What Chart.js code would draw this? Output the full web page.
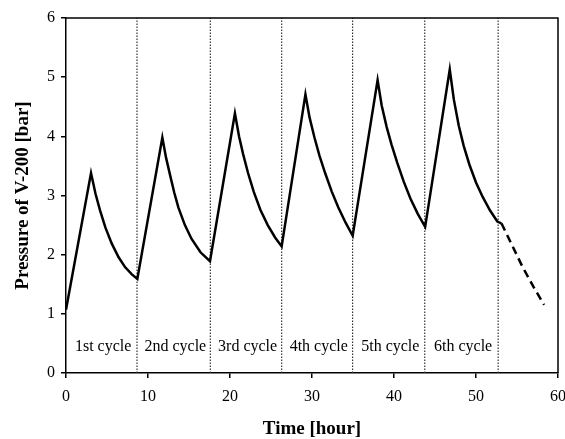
<!DOCTYPE html>
<html>
<head>
<meta charset="utf-8">
<script src="https://cdn.jsdelivr.net/npm/chart.js@4.4.0/dist/chart.umd.min.js"></script>
<style>
  body { margin: 0; background: #fff; }
  #wrap { width: 565px; height: 439px; }
</style>
</head>
<body>
<div id="wrap"><canvas id="pressureChart" width="565" height="439"></canvas></div>
<script>
// measured pressure of V-200 (solid line)
const timeHours = [0, 3.05, 3.6, 4.15, 4.8, 5.57, 6.4, 7.2, 8.0, 8.7,
  11.75, 12.2, 12.7, 13.2, 13.7, 14.5, 15.3, 16.4, 17.56,
  20.6, 21.1, 21.6, 22.2, 22.9, 23.7, 24.6, 25.5, 26.3,
  29.2, 29.7, 30.3, 30.9, 31.6, 32.4, 33.2, 34.1, 34.96,
  38.0, 38.5, 39.1, 39.7, 40.4, 41.2, 42.0, 42.9, 43.8,
  46.8, 47.3, 47.9, 48.5, 49.2, 50.0, 50.8, 51.7, 52.6, 53.1];
const pressureBar = [1.07, 3.38, 3.03, 2.75, 2.46, 2.19, 1.96, 1.79, 1.67, 1.59,
  3.98, 3.64, 3.34, 3.05, 2.80, 2.50, 2.27, 2.04, 1.89,
  4.39, 4.00, 3.70, 3.38, 3.06, 2.76, 2.50, 2.29, 2.14,
  4.71, 4.32, 3.98, 3.68, 3.38, 3.07, 2.80, 2.54, 2.32,
  4.95, 4.52, 4.16, 3.86, 3.55, 3.23, 2.95, 2.69, 2.47,
  5.13, 4.62, 4.18, 3.84, 3.52, 3.22, 2.98, 2.75, 2.56, 2.53];

// tail after the last cycle (dashed line)
const tailHours = [53.1, 54.4, 55.65, 57.0, 58.3];
const tailPressure = [2.53, 2.16, 1.80, 1.46, 1.15];

// cycle boundaries (dotted lines) and labels
const cycleEnds = [8.66, 17.6, 26.3, 34.95, 43.75, 52.7];
const cycleLabels = ['1st cycle', '2nd cycle', '3rd cycle', '4th cycle', '5th cycle', '6th cycle'];

const xTicks = [0, 10, 20, 30, 40, 50, 60];
const yTicks = [0, 1, 2, 3, 4, 5, 6];

const serif = "'Liberation Serif', 'Times New Roman', serif";

function toPoints(xs, ys) {
  return xs.map((x, i) => ({ x: x, y: ys[i] }));
}

const datasets = [];
datasets.push({
  data: toPoints(timeHours, pressureBar),
  borderColor: '#000',
  borderWidth: 2.5,
  pointRadius: 0,
  tension: 0,
  order: 0
});
datasets.push({
  data: toPoints(tailHours, tailPressure),
  borderColor: '#000',
  borderWidth: 2.5,
  borderDash: [8, 5],
  pointRadius: 0,
  tension: 0,
  order: 0
});
cycleEnds.forEach(t => {
  datasets.push({
    data: [{ x: t, y: 0 }, { x: t, y: 6 }],
    borderColor: '#333',
    borderWidth: 1.2,
    borderDash: [1.5, 1.5],
    pointRadius: 0,
    order: 1
  });
});

// box around the plot + cycle names
const extras = {
  id: 'extras',
  afterDatasetsDraw(chart) {
    const ctx = chart.ctx;
    const a = chart.chartArea;
    const xs = chart.scales.x;
    const ys = chart.scales.y;
    ctx.save();
    ctx.strokeStyle = '#000';
    ctx.lineWidth = 1.5;
    ctx.beginPath();
    ctx.moveTo(a.left, a.top);
    ctx.lineTo(a.right, a.top);
    ctx.lineTo(a.right, a.bottom);
    ctx.stroke();

    ctx.fillStyle = '#000';
    ctx.font = '16px ' + serif;
    ctx.textAlign = 'center';
    ctx.textBaseline = 'middle';
    let start = 0;
    cycleLabels.forEach((name, i) => {
      const mid = (start + cycleEnds[i]) / 2 + 0.2;
      ctx.fillText(name, xs.getPixelForValue(mid), ys.getPixelForValue(0.45));
      start = cycleEnds[i];
    });
    ctx.restore();
  }
};

new Chart(document.getElementById('pressureChart'), {
  type: 'line',
  data: { datasets },
  plugins: [extras],
  options: {
    responsive: false,
    animation: false,
    layout: { padding: { top: 18, right: 0, left: 0, bottom: 0 } },
    plugins: { legend: { display: false }, tooltip: { enabled: false } },
    scales: {
      x: {
        type: 'linear',
        min: 0,
        max: 60,
        afterBuildTicks: s => { s.ticks = xTicks.map(v => ({ value: v })); },
        afterFit: s => { s.height = 66; s.paddingRight = 7; s.paddingLeft = 0; },
        grid: { drawOnChartArea: false, drawTicks: true, tickLength: 5, color: '#000', lineWidth: 1.5 },
        border: { display: true, color: '#000', width: 1.5 },
        ticks: { color: '#000', padding: 9, font: { family: serif, size: 16 } },
        title: {
          display: true,
          text: 'Time [hour]',
          color: '#000',
          padding: { top: 0, bottom: 0 },
          font: { family: serif, size: 19, weight: 'bold', lineHeight: 1 }
        }
      },
      y: {
        type: 'linear',
        min: 0,
        max: 6,
        afterBuildTicks: s => { s.ticks = yTicks.map(v => ({ value: v })); },
        afterFit: s => { s.width = 66; },
        grid: { drawOnChartArea: false, drawTicks: true, tickLength: 5, color: '#000', lineWidth: 1.5 },
        border: { display: true, color: '#000', width: 1.5 },
        ticks: { color: '#000', padding: 6, font: { family: serif, size: 16 } },
        title: {
          display: true,
          text: 'Pressure of V-200 [bar]',
          color: '#000',
          padding: { top: 14, bottom: 0 },
          font: { family: serif, size: 19, weight: 'bold', lineHeight: 1 }
        }
      }
    }
  }
});
</script>
</body>
</html>
